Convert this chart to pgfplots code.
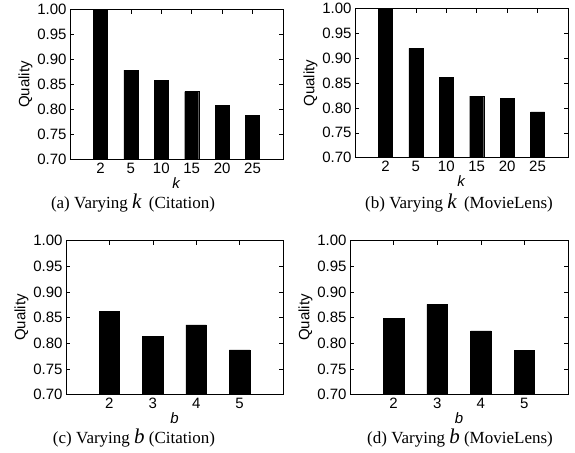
\documentclass[border=0pt]{standalone}
\usepackage{fontspec}
\setmainfont{Liberation Serif}
\setsansfont{Liberation Sans}
\usepackage{pgfplots}
\pgfplotsset{compat=1.18}

\pgfplotsset{
 qual/.style={
  scale only axis,
  anchor=north west,
  ybar,
  ymin=0.7, ymax=1.0,
  ytick={0.7,0.75,0.8,0.85,0.9,0.95,1.0},
  y tick label style={/pgf/number format/.cd,fixed,fixed zerofill,precision=2,/tikz/.cd},
  /pgf/number format/assume math mode=true,
  tick label style={font=\sffamily\fontsize{15}{15}\selectfont},
  label style={font=\sffamily\fontsize{15}{15}\selectfont},
  ylabel={Quality},
  ylabel style={yshift=-2pt},
  xlabel style={yshift=3pt},
  tick align=inside,
  major tick length=4pt,
  tick style={black, line width=0.6pt},
  xtick=data,
  axis line style={line width=0.8pt},
 },
 kax/.style={qual, width=213pt, height=150pt, xmin=-1, xmax=6,
   xticklabels={2,5,10,15,20,25}, xlabel={\textit{k}}, bar width=14pt},
 bax/.style={qual, width=217pt, height=154pt, xmin=-1, xmax=4,
   xticklabels={2,3,4,5}, xlabel={\textit{b}}, bar width=20.5pt},
}
\newcommand{\capk}[1]{{\fontsize{21}{21}\selectfont\textit{#1}}}

\begin{document}
\begin{tikzpicture}
\path (0,0) rectangle (575pt,452pt);
% (a)
\begin{axis}[kax, at={(70pt,443pt)}]
\addplot[fill=black, draw=black] coordinates {(0,1.00) (1,0.879) (2,0.859) (3,0.836) (4,0.809) (5,0.788)};
\end{axis}
% (b)
\begin{axis}[kax, at={(355pt,444pt)}, height=149pt]
\addplot[fill=black, draw=black] coordinates {(0,1.00) (1,0.920) (2,0.861) (3,0.824) (4,0.820) (5,0.792)};
\end{axis}
% (c)
\begin{axis}[bax, at={(66pt,212pt)}]
\addplot[fill=black, draw=black] coordinates {(0,0.862) (1,0.813) (2,0.836) (3,0.787)};
\end{axis}
% (d)
\begin{axis}[bax, at={(350pt,212pt)}, width=218pt]
\addplot[fill=black, draw=black] coordinates {(0,0.848) (1,0.876) (2,0.824) (3,0.786)};
\end{axis}
\node[font=\fontsize{17}{17}\selectfont] at (133pt,250pt) {(a) Varying \capk{k}\, (Citation)};
\node[font=\fontsize{17}{17}\selectfont] at (459pt,250pt) {(b) Varying \capk{k}\, (MovieLens)};
\node[font=\fontsize{17}{17}\selectfont] at (134pt,15pt) {(c) Varying \capk{b} (Citation)};
\node[font=\fontsize{17}{17}\selectfont] at (460pt,15pt) {(d) Varying \capk{b} (MovieLens)};
\end{tikzpicture}
\end{document}
